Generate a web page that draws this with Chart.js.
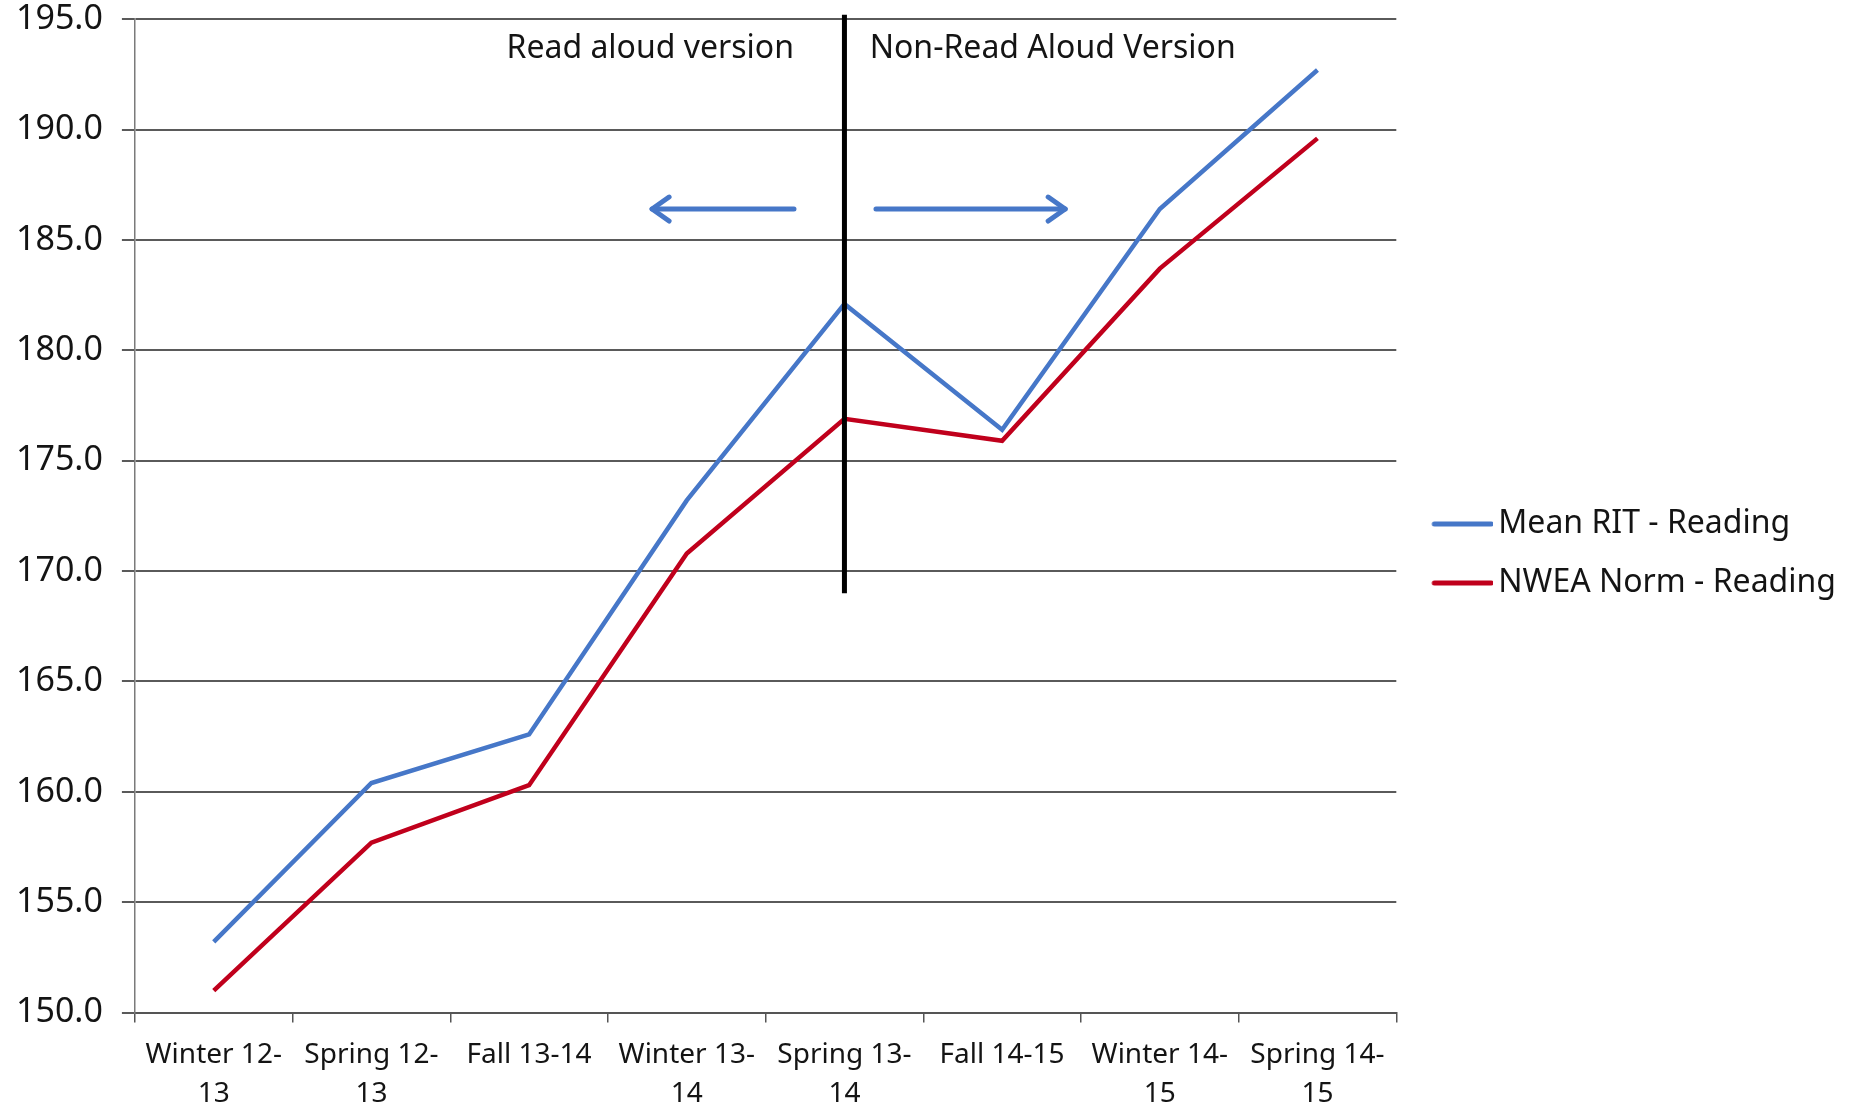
<!DOCTYPE html>
<html>
<head>
<meta charset="utf-8">
<script src="https://cdn.jsdelivr.net/npm/chart.js@4/dist/chart.umd.min.js"></script>
<style>
  html, body { margin: 0; padding: 0; background: #ffffff; }
  #wrap { width: 1859px; height: 1110px; position: relative; }
</style>
</head>
<body>
<div id="wrap"><canvas id="chart"></canvas></div>
<script>
// Test terms (x categories), split onto two lines where the label wraps
const terms = [
  ['Winter 12-', '13'],
  ['Spring 12-', '13'],
  'Fall 13-14',
  ['Winter 13-', '14'],
  ['Spring 13-', '14'],
  'Fall 14-15',
  ['Winter 14-', '15'],
  ['Spring 14-', '15']
];

// Series values
const meanRit  = [153.2, 160.4, 162.6, 173.2, 182.1, 176.4, 186.4, 192.7];
const nweaNorm = [151.0, 157.7, 160.3, 170.8, 176.9, 175.9, 183.7, 189.6];

const seriesNames = ['Mean RIT - Reading', 'NWEA Norm - Reading'];

// Value axis range and step
const yMin = 150, yMax = 195, yStep = 5;

// Divider between the two test versions (category index, value range)
const dividerIndex = [4];
const dividerSpan = [169.0, 195.2];

// Direction arrows: [from, to] in category index units, at one value level
const arrowLeft = [3.68, 2.78];
const arrowRight = [4.20, 5.40];
const arrowLevel = [186.4];

// Section captions and their anchor positions (category index, value)
const sectionCaptions = ['Read aloud version', 'Non-Read Aloud Version'];
const captionAnchors = [3.68, 4.16];
const captionLevel = [193.65];

const BLUE = '#4677c8';
const RED = '#c0001c';
const FONT = '"Noto Sans", "Open Sans", sans-serif';

// Legend swatch: a short line drawn right up against the label text
function legendSwatch(color) {
  const c = document.createElement('canvas');
  c.width = 81;
  c.height = 10;
  const g = c.getContext('2d');
  g.strokeStyle = color;
  g.lineWidth = 5;
  g.lineCap = 'round';
  g.beginPath();
  g.moveTo(22, 5);
  g.lineTo(79, 5);
  g.stroke();
  return c;
}

const versionMarks = {
  id: 'versionMarks',
  afterDatasetsDraw(chart) {
    const ctx = chart.ctx;
    const x = chart.scales.x, y = chart.scales.y;
    ctx.save();

    // vertical divider
    const dx = x.getPixelForValue(dividerIndex[0]);
    ctx.strokeStyle = '#000000';
    ctx.lineWidth = 5;
    ctx.lineCap = 'butt';
    ctx.beginPath();
    ctx.moveTo(dx, y.getPixelForValue(dividerSpan[1]));
    ctx.lineTo(dx, y.getPixelForValue(dividerSpan[0]));
    ctx.stroke();

    // arrows
    const drawArrow = (pair) => {
      const x0 = x.getPixelForValue(pair[0]);
      const x1 = x.getPixelForValue(pair[1]);
      const ay = y.getPixelForValue(arrowLevel[0]);
      const dir = Math.sign(x1 - x0);
      ctx.strokeStyle = BLUE;
      ctx.lineWidth = 5;
      ctx.lineCap = 'round';
      ctx.lineJoin = 'round';
      ctx.beginPath();
      ctx.moveTo(x0, ay);
      ctx.lineTo(x1, ay);
      ctx.stroke();
      ctx.beginPath();
      ctx.moveTo(x1 - dir * 17, ay - 12);
      ctx.lineTo(x1, ay);
      ctx.lineTo(x1 - dir * 17, ay + 12);
      ctx.stroke();
    };
    drawArrow(arrowLeft);
    drawArrow(arrowRight);

    // captions
    ctx.fillStyle = '#141414';
    ctx.font = '32px ' + FONT;
    ctx.textBaseline = 'middle';
    const cy = y.getPixelForValue(captionLevel[0]);
    ctx.textAlign = 'right';
    ctx.fillText(sectionCaptions[0], x.getPixelForValue(captionAnchors[0]), cy);
    ctx.textAlign = 'left';
    ctx.fillText(sectionCaptions[1], x.getPixelForValue(captionAnchors[1]), cy);

    ctx.restore();
  }
};

new Chart(document.getElementById('chart'), {
  type: 'line',
  data: {
    labels: terms,
    datasets: [
      {
        label: seriesNames[0],
        data: meanRit,
        borderColor: BLUE,
        backgroundColor: BLUE,
        borderWidth: 4.5,
        pointRadius: 0,
        pointStyle: legendSwatch(BLUE),
        tension: 0
      },
      {
        label: seriesNames[1],
        data: nweaNorm,
        borderColor: RED,
        backgroundColor: RED,
        borderWidth: 4.5,
        pointRadius: 0,
        pointStyle: legendSwatch(RED),
        tension: 0
      }
    ]
  },
  options: {
    responsive: true,
    maintainAspectRatio: false,
    animation: false,
    layout: { padding: { left: -3, right: 13, top: -20, bottom: -17 } },
    plugins: {
      tooltip: { enabled: false },
      legend: {
        position: 'right',
        align: 'center',
        labels: {
          usePointStyle: true,
          pointStyleWidth: 59,
          padding: 27,
          color: '#141414',
          font: { family: FONT, size: 32 }
        }
      }
    },
    scales: {
      x: {
        offset: true,
        grid: {
          offset: true,
          drawOnChartArea: false,
          drawTicks: true,
          tickLength: 10,
          color: '#555555',
          lineWidth: 1.5
        },
        border: { display: true, color: '#555555', width: 2 },
        ticks: {
          color: '#141414',
          padding: 13,
          maxRotation: 0,
          autoSkip: false,
          font: { family: FONT, size: 28, lineHeight: 1.4 }
        }
      },
      y: {
        min: yMin,
        max: yMax,
        grid: {
          color: '#5a5a5a',
          lineWidth: 2,
          tickLength: 13,
          drawTicks: true
        },
        border: { display: true, color: '#7a7a7a', width: 1.5 },
        ticks: {
          stepSize: yStep,
          color: '#141414',
          padding: 19,
          font: { family: FONT, size: 34, lineHeight: 0.01 },
          callback: (v) => Number(v).toFixed(1)
        }
      }
    }
  },
  plugins: [versionMarks]
});
</script>
</body>
</html>
